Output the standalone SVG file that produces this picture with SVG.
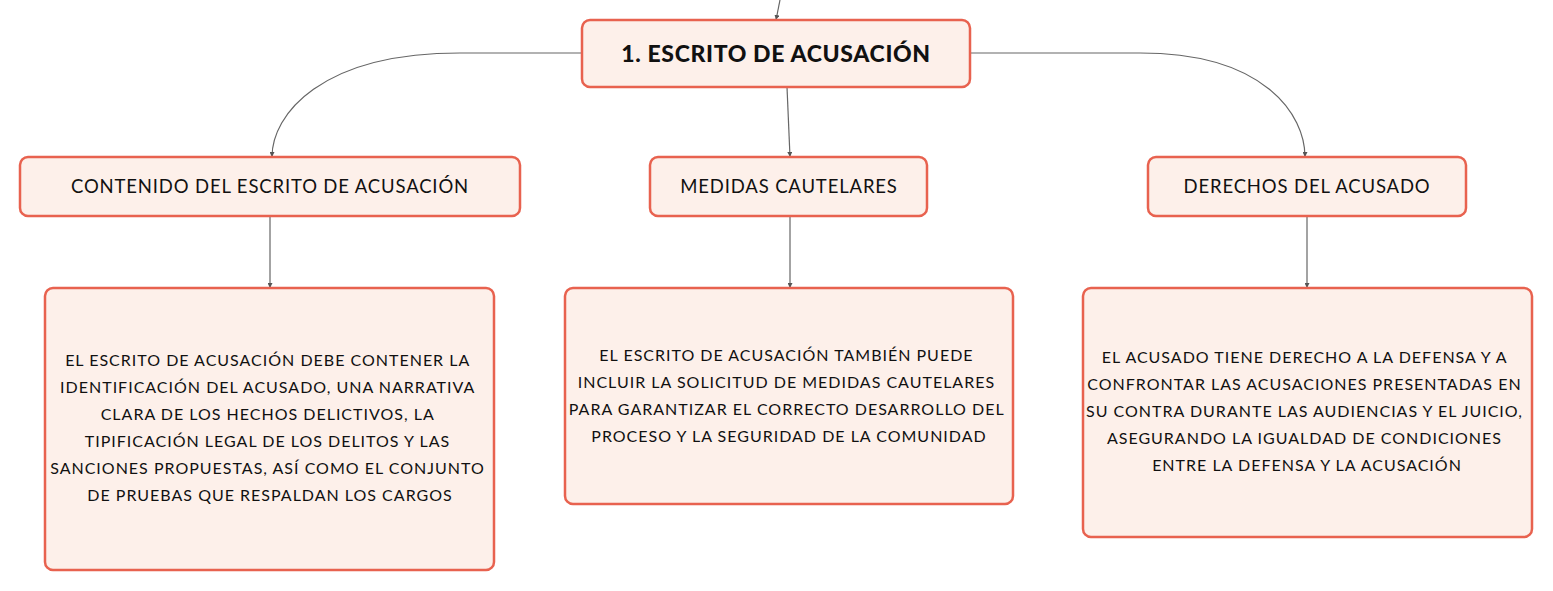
<svg xmlns="http://www.w3.org/2000/svg" width="1553" height="591" viewBox="0 0 1553 591">
<defs>
<marker id="ah" viewBox="0 0 6 6" refX="6" refY="3" markerWidth="5" markerHeight="5" orient="auto" markerUnits="userSpaceOnUse">
<path d="M0,0 L6,3 L0,6 z" fill="#555"/>
</marker>
<style>
.box{fill:#fdf0ea;stroke:#e8624f;stroke-width:2.5}
.t{font-family:Lato,"Noto Sans",sans-serif;fill:#111;text-anchor:middle}
.h{font-size:18.5px;letter-spacing:0.85px}
.b{font-size:16px;letter-spacing:1px}
.c{fill:none;stroke:#666;stroke-width:1.2;marker-end:url(#ah)}
</style>
</defs>
<rect width="1553" height="591" fill="#fff"/>
<g id="connectors">
<path class="c" d="M780,0 L776,20"/>
<path class="c" d="M582,53 L460,53 C320,53 272,115 272,157"/>
<path class="c" d="M970,53 L1140,53 C1265,53 1305,115 1305,157"/>
<path class="c" d="M787,87 L790,157"/>
<path class="c" d="M270,216 L270,288"/>
<path class="c" d="M790,216 L790,288"/>
<path class="c" d="M1307,216 L1307,288"/>
</g>
<g id="root">
<rect class="box" x="582" y="20" width="388" height="67" rx="8"/>
<text class="t" x="776" y="62" font-size="23" font-weight="900" letter-spacing="0.65">1. ESCRITO DE ACUSACIÓN</text>
</g>
<g id="contenido">
<rect class="box" x="20" y="157" width="500" height="59" rx="8"/>
<text class="t h" x="270" y="193">CONTENIDO DEL ESCRITO DE ACUSACIÓN</text>
</g>
<g id="medidas">
<rect class="box" x="650" y="157" width="277" height="59" rx="8"/>
<text class="t h" x="789" y="193">MEDIDAS CAUTELARES</text>
</g>
<g id="derechos">
<rect class="box" x="1148" y="157" width="318" height="59" rx="8"/>
<text class="t h" x="1307" y="193">DERECHOS DEL ACUSADO</text>
</g>
<g id="leaf1">
<rect class="box" x="45" y="288" width="449" height="282" rx="8"/>
<text class="t b">
<tspan x="270" y="366">EL ESCRITO DE ACUSACIÓN DEBE CONTENER LA</tspan>
<tspan x="270" y="393">IDENTIFICACIÓN DEL ACUSADO, UNA NARRATIVA</tspan>
<tspan x="270" y="420">CLARA DE LOS HECHOS DELICTIVOS, LA</tspan>
<tspan x="270" y="447">TIPIFICACIÓN LEGAL DE LOS DELITOS Y LAS</tspan>
<tspan x="270" y="474">SANCIONES PROPUESTAS, ASÍ COMO EL CONJUNTO</tspan>
<tspan x="270" y="501">DE PRUEBAS QUE RESPALDAN LOS CARGOS</tspan>
</text>
</g>
<g id="leaf2">
<rect class="box" x="565" y="288" width="448" height="216" rx="8"/>
<text class="t b">
<tspan x="789" y="361">EL ESCRITO DE ACUSACIÓN TAMBIÉN PUEDE</tspan>
<tspan x="789" y="388">INCLUIR LA SOLICITUD DE MEDIDAS CAUTELARES</tspan>
<tspan x="789" y="415">PARA GARANTIZAR EL CORRECTO DESARROLLO DEL</tspan>
<tspan x="789" y="442">PROCESO Y LA SEGURIDAD DE LA COMUNIDAD</tspan>
</text>
</g>
<g id="leaf3">
<rect class="box" x="1083" y="288" width="449" height="249" rx="8"/>
<text class="t b">
<tspan x="1307" y="363">EL ACUSADO TIENE DERECHO A LA DEFENSA Y A</tspan>
<tspan x="1307" y="390">CONFRONTAR LAS ACUSACIONES PRESENTADAS EN</tspan>
<tspan x="1307" y="417">SU CONTRA DURANTE LAS AUDIENCIAS Y EL JUICIO,</tspan>
<tspan x="1307" y="444">ASEGURANDO LA IGUALDAD DE CONDICIONES</tspan>
<tspan x="1307" y="471">ENTRE LA DEFENSA Y LA ACUSACIÓN</tspan>
</text>
</g>
</svg>
